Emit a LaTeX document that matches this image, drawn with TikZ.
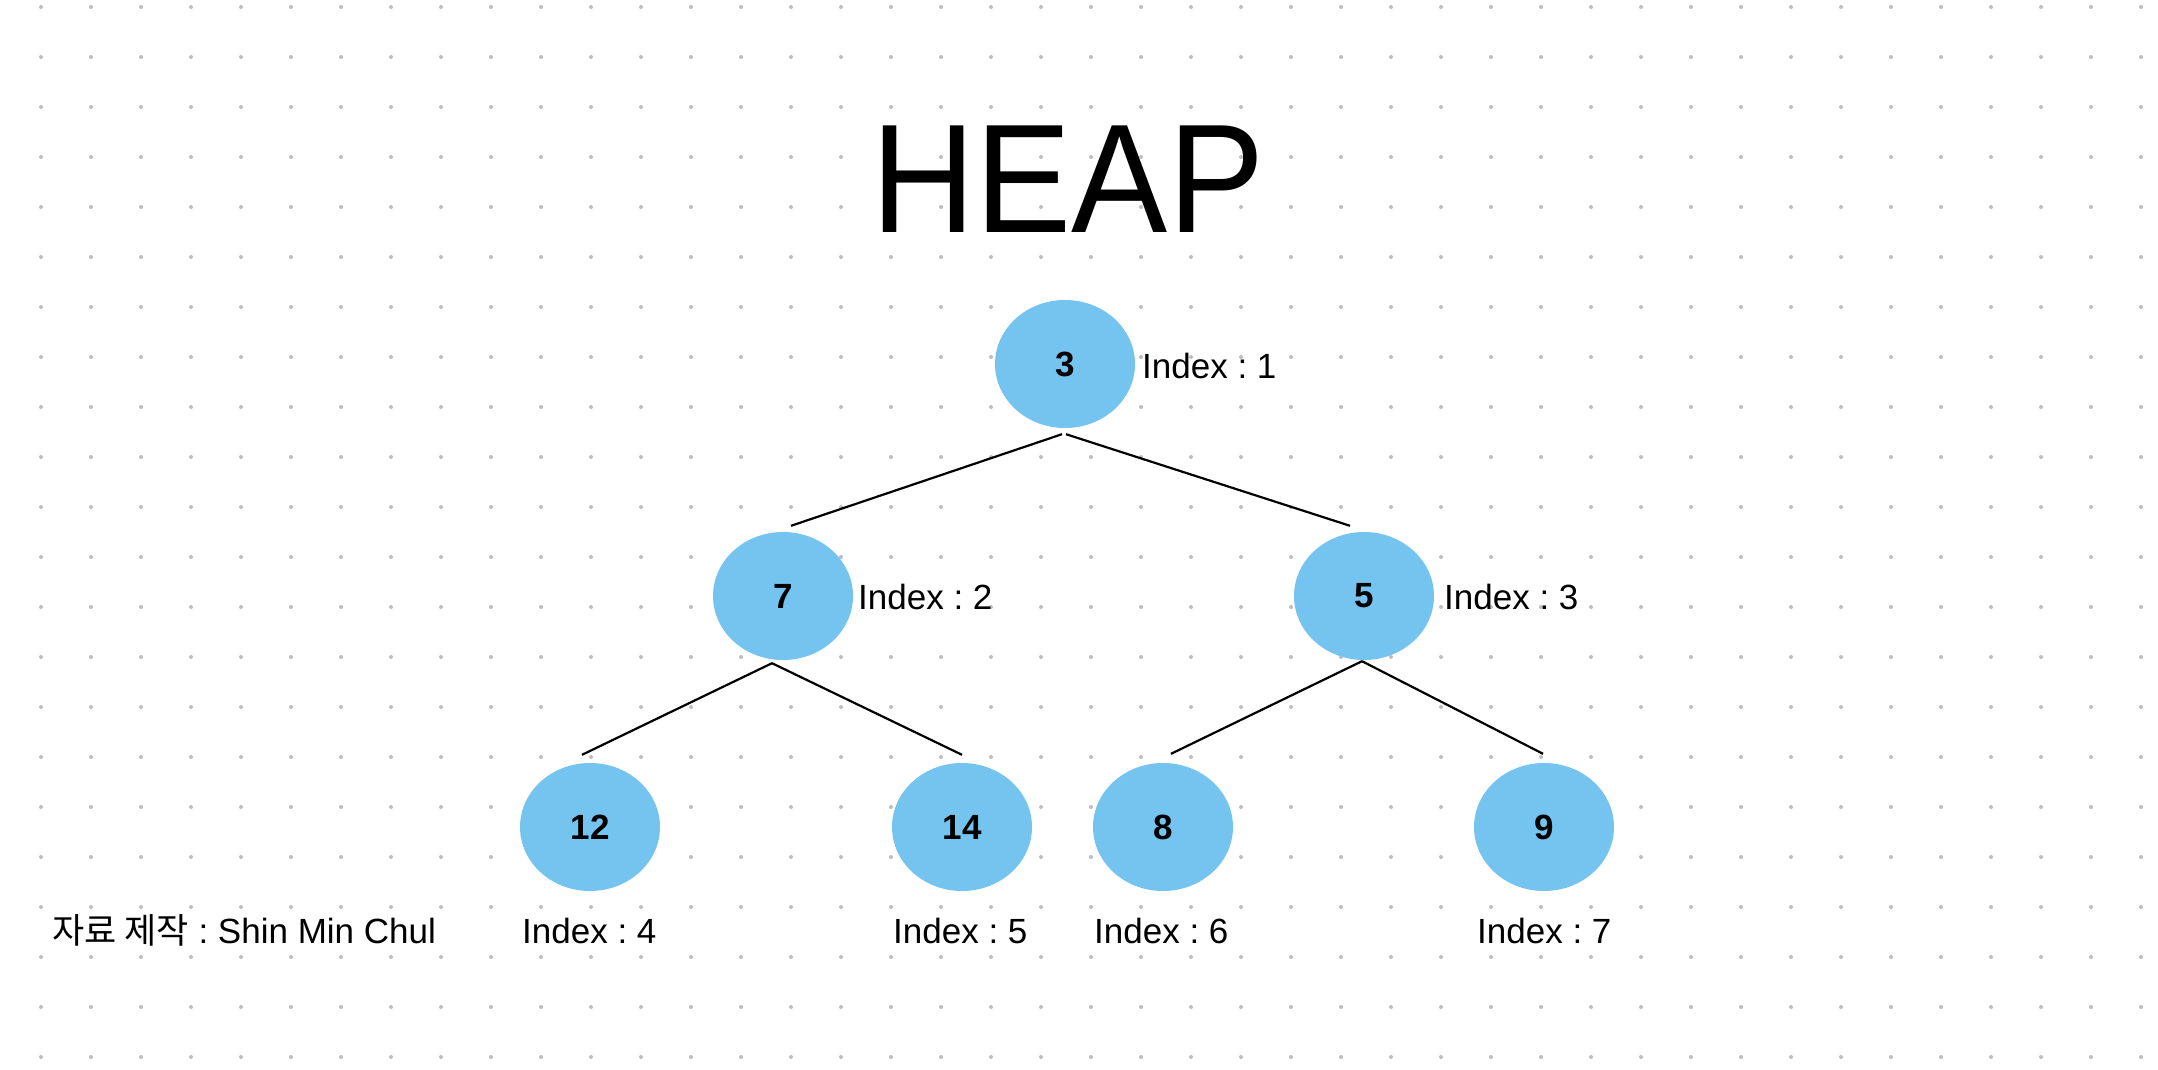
\documentclass[tikz,border=0pt]{standalone}
\usepackage{fontspec}
\setmainfont{Liberation Sans}
\newfontfamily\cjk{Noto Sans CJK KR}
\usetikzlibrary{calc,shapes.geometric}
\frenchspacing
\definecolor{nodefill}{HTML}{75C4F0}
\definecolor{dotc}{HTML}{BEBEBE}
\tikzset{
  heapnode/.style={ellipse, fill=nodefill, minimum width=140pt, minimum height=128pt, inner sep=0pt,
    font=\fontsize{35}{42}\selectfont\bfseries},
  idx/.style={anchor=base west, inner sep=0pt, font=\fontsize{35}{42}\selectfont},
  edge/.style={draw=black, line width=2.2pt},
}
\begin{document}
\begin{tikzpicture}[x=1pt,y=-1pt]
\useasboundingbox (0,0) rectangle (2158,1070);
\fill[white] (0,0) rectangle (2158,1070);
\foreach \i in {0,...,42} {
  \foreach \j in {0,...,21} {
    \fill[dotc] (41+50*\i, 7+50*\j) circle (2);
  }
}
% title
\node[inner sep=0pt, anchor=base, xscale=0.93, font=\fontsize{155}{160}\selectfont] (title) at (1068,232) {HEAP};
% nodes
\node[heapnode] (r) at (1065,364) {3};
\node[heapnode] (a) at (783,596) {7};
\node[heapnode] (b) at (1364,596) {5};
\node[heapnode] (c) at (590,827) {12};
\node[heapnode] (d) at (962,827) {14};
\node[heapnode] (e) at (1163,827) {8};
\node[heapnode] (f) at (1544,827) {9};
% index labels
\node[idx] (i1) at (1142,378) {Index : 1};
\node[idx] (i2) at (858,609) {Index : 2};
\node[idx] (i3) at (1444,609) {Index : 3};
\node[idx] (i4) at (522,943) {Index : 4};
\node[idx] (i5) at (893,943) {Index : 5};
\node[idx] (i6) at (1094,943) {Index : 6};
\node[idx] (i7) at (1477,943) {Index : 7};
\node[idx] (credit) at (52,943) {{\cjk 자료 제작} : Shin Min Chul};
% edges
\draw[edge] ($(r.south)+(-3,6)$) -- ($(a.north)+(8,-6)$);
\draw[edge] ($(r.south)+(1,6)$) -- ($(b.north)+(-14,-6)$);
\draw[edge] ($(a.south)+(-11,3)$) -- ($(c.north)+(-8,-8)$);
\draw[edge] ($(a.south)+(-11,3)$) -- ($(d.north)+(0,-8)$);
\draw[edge] ($(b.south)+(-2,1)$) -- ($(e.north)+(8,-9)$);
\draw[edge] ($(b.south)+(-2,1)$) -- ($(f.north)+(-1,-9)$);
\end{tikzpicture}
\end{document}
